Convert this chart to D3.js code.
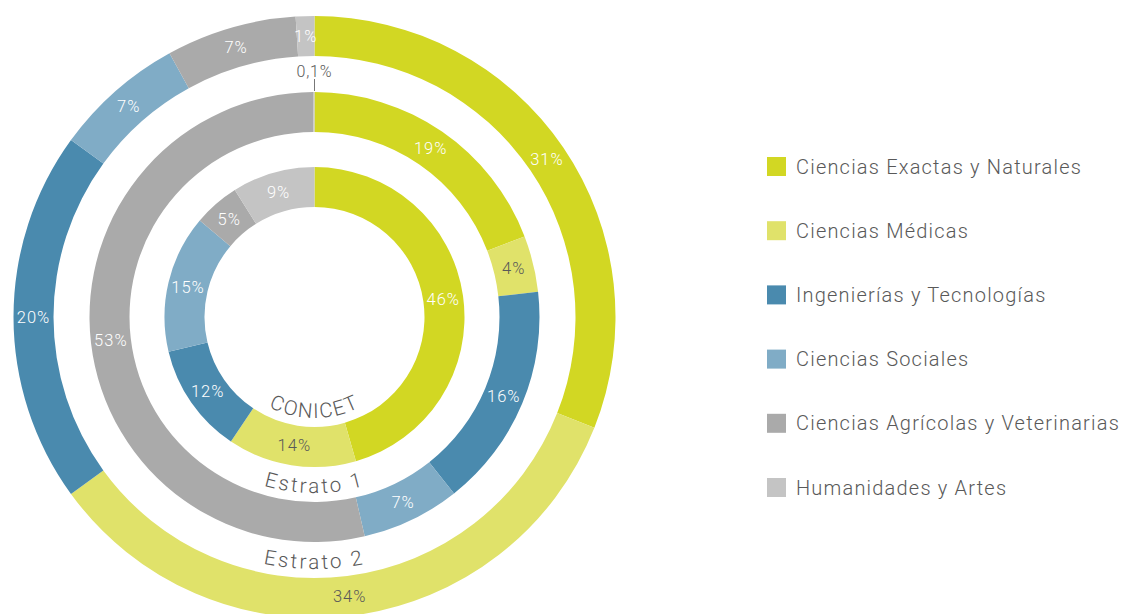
<!DOCTYPE html>
<html>
<head>
<meta charset="utf-8">
<script src="https://cdn.jsdelivr.net/npm/d3@7"></script>
<style>
  body { margin: 0; background: #fff; }
  text { font-family: Roboto, "Noto Sans", sans-serif; font-weight: 300; }
</style>
</head>
<body>
<svg width="1121" height="614"></svg>
<script>
  // categories, same order in every ring (clockwise from 12 o'clock)
  const categories = [
    'Ciencias Exactas y Naturales',
    'Ciencias Médicas',
    'Ingenierías y Tecnologías',
    'Ciencias Sociales',
    'Ciencias Agrícolas y Veterinarias',
    'Humanidades y Artes'
  ];
  const colors = ['#d2d723', '#e0e26a', '#4a8aae', '#80acc6', '#aaaaaa', '#c4c4c4'];
  const darkLabel = [false, true, false, false, false, false];

  // percentages per ring
  const ringNames = ['CONICET', 'Estrato 1', 'Estrato 2'];
  const conicet  = [46, 14, 12, 15, 5, 9];
  const estrato1 = [19, 4, 16, 7, 53, 0.1];
  const estrato2 = [31, 34, 20, 7, 7, 1];

  const svg = d3.select('svg');
  const cx = 314.5, cy = 317;
  const thickness = 40;
  const outerRadii = [150, 225, 301];
  const textColor = '#595959';

  const g = svg.append('g').attr('transform', `translate(${cx},${cy})`);

  const pie = d3.pie().sort(null).value(d => d);
  const fmt = v => String(v).replace('.', ',') + '%';

  [conicet, estrato1, estrato2].forEach((values, ri) => {
    const outer = outerRadii[ri];
    const inner = outer - thickness;
    const arc = d3.arc().innerRadius(inner).outerRadius(outer);
    const labelArc = d3.arc().innerRadius((inner + outer) / 2).outerRadius((inner + outer) / 2);
    const arcs = pie(values);

    const ring = g.append('g').attr('class', 'ring');
    ring.selectAll('path').data(arcs).enter().append('path')
      .attr('d', arc)
      .attr('fill', (d, i) => colors[i]);

    // labels inside slices
    ring.selectAll('text.pct').data(arcs.filter(d => d.data >= 1)).enter().append('text')
      .attr('class', 'pct')
      .attr('transform', d => `translate(${labelArc.centroid(d)})`)
      .attr('dy', '0.35em')
      .attr('text-anchor', 'middle')
      .style('font-size', '16.5px')
      .style('letter-spacing', '1px')
      .attr('fill', d => darkLabel[d.index] ? textColor : '#fff')
      .text(d => fmt(d.data));

    // tiny slices: label outside with leader line
    const tiny = arcs.filter(d => d.data < 1);
    tiny.forEach(d => {
      const a0 = d.endAngle;
      const sx = Math.sin(a0), sy = -Math.cos(a0);
      ring.append('line')
        .attr('x1', sx * (outer + 1)).attr('y1', sy * (outer + 1))
        .attr('x2', sx * (outer + 13)).attr('y2', sy * (outer + 13))
        .attr('stroke', '#777').attr('stroke-width', 1);
      ring.append('text')
        .attr('x', sx * (outer + 15)).attr('y', sy * (outer + 15))
        .attr('text-anchor', 'middle')
        .style('font-size', '16px')
        .style('letter-spacing', '0.8px')
        .attr('fill', textColor)
        .text(fmt(d.data));
    });

    // ring title along the inside bottom
    const r = inner - 9;
    const a = Math.PI / 3;
    const id = 'title-path-' + ri;
    g.append('path')
      .attr('id', id)
      .attr('fill', 'none')
      .attr('d', `M${-r * Math.sin(a)},${r * Math.cos(a)} A${r},${r} 0 0 0 ${r * Math.sin(a)},${r * Math.cos(a)}`);
    g.append('text')
      .style('font-size', '20.5px')
      .style('letter-spacing', ri === 0 ? '1.5px' : '2.5px')
      .attr('fill', textColor)
      .append('textPath')
      .attr('href', '#' + id)
      .attr('startOffset', '50%')
      .attr('text-anchor', 'middle')
      .text(ringNames[ri]);
  });

  // legend
  const legend = svg.append('g').attr('transform', 'translate(767,157)');
  const row = legend.selectAll('g').data(categories).enter().append('g')
    .attr('transform', (d, i) => `translate(0,${i * 64.2})`);
  row.append('rect')
    .attr('width', 19).attr('height', 19)
    .attr('fill', (d, i) => colors[i]);
  row.append('text')
    .attr('x', 29).attr('y', 9.5).attr('dy', '0.35em')
    .style('font-size', '20px')
    .style('letter-spacing', '1.2px')
    .attr('fill', textColor)
    .text(d => d);
</script>
</body>
</html>
